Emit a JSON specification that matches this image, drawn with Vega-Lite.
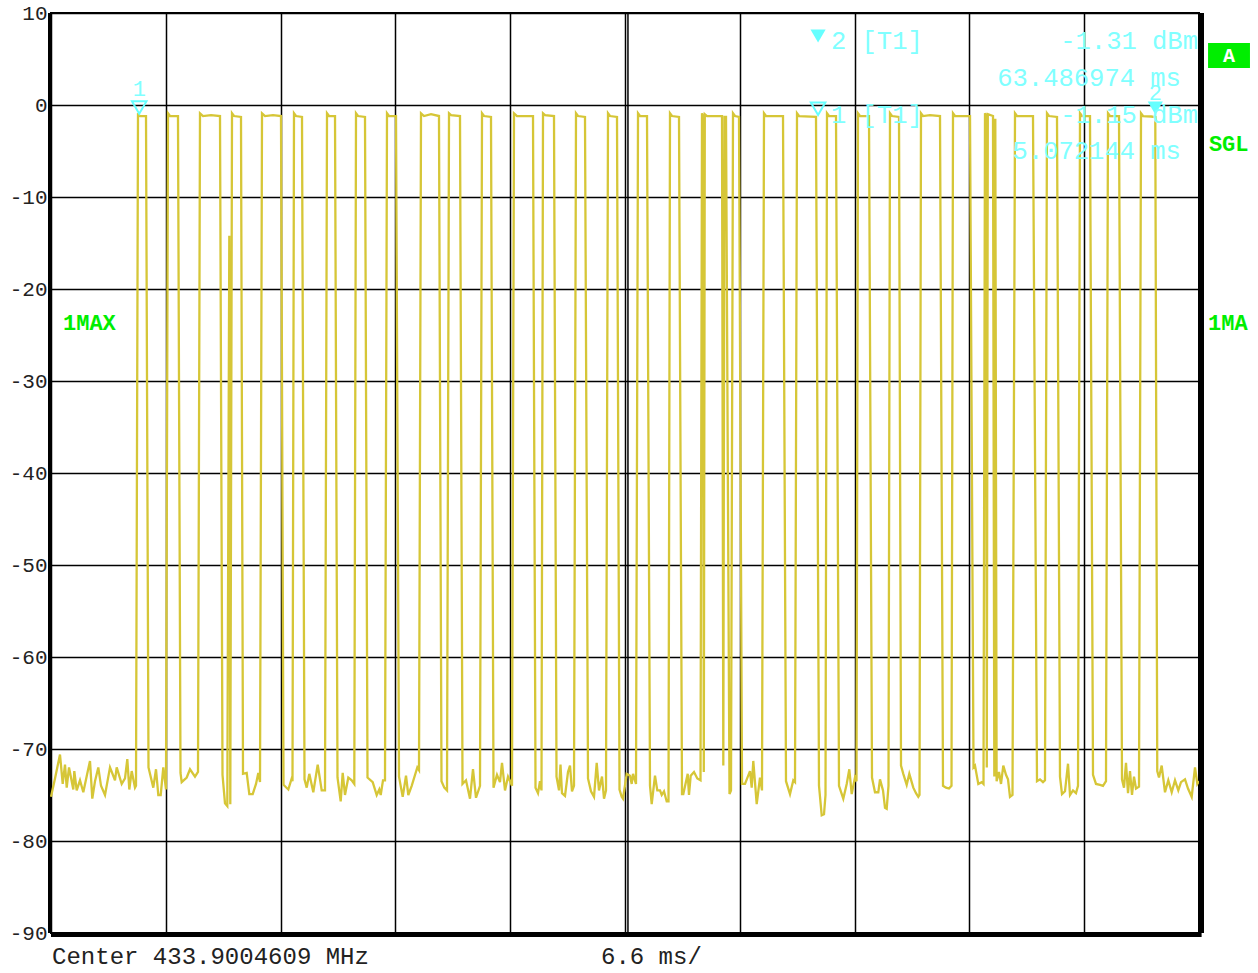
{
  "$schema": "https://vega.github.io/schema/vega-lite/v6.json",
  "width": 1148,
  "height": 920,
  "autosize": {"type": "none"},
  "padding": {"left": 51, "top": 13, "right": 59, "bottom": 40},
  "background": "#ffffff",
  "config": {
    "view": {"stroke": "#000000", "strokeWidth": 2},
    "axis": {"gridColor": "#000000", "gridWidth": 1.5, "gridOpacity": 1, "domain": false, "ticks": false, "title": null}
  },
  "datasets": {
    "trace": [
      {"t":0,"v":-75.2},{"t":0.23,"v":-73.2},{"t":0.517,"v":-70.6},{"t":0.673,"v":-73.8},{"t":0.805,"v":-71.7},{"t":0.903,"v":-74.2},{"t":1.035,"v":-72},{"t":1.282,"v":-74.4},{"t":1.34,"v":-72.4},{"t":1.478,"v":-74.5},{"t":1.667,"v":-73.4},{"t":1.857,"v":-74.7},{"t":2.07,"v":-72.8},{"t":2.242,"v":-71.3},{"t":2.374,"v":-75.4},{"t":2.53,"v":-73.5},{"t":2.719,"v":-72},{"t":2.875,"v":-74},{"t":3.105,"v":-75},{"t":3.392,"v":-72},{"t":3.679,"v":-73.4},{"t":3.777,"v":-72},{"t":4.065,"v":-73.8},{"t":4.254,"v":-73.2},{"t":4.387,"v":-71.1},{"t":4.502,"v":-74.4},{"t":4.64,"v":-72.4},{"t":4.829,"v":-74.2},{"t":4.887,"v":-74},
      {"t":5.002,"v":-0.9},{"t":5.072144,"v":-1.15},{"t":5.117,"v":-1.2},{"t":5.462,"v":-1.2},{"t":5.605,"v":-72},
      {"t":5.881,"v":-74.2},{"t":6.037,"v":-72.2},{"t":6.169,"v":-75},{"t":6.307,"v":-75},{"t":6.456,"v":-72},{"t":6.611,"v":-74.4},
      {"t":6.726,"v":-0.9},{"t":6.841,"v":-1.2},{"t":7.301,"v":-1.2},{"t":7.445,"v":-72.6},
      {"t":7.514,"v":-73.6},{"t":7.802,"v":-73.1},{"t":7.991,"v":-72.2},{"t":8.279,"v":-73},{"t":8.451,"v":-72.5},
      {"t":8.566,"v":-0.9},{"t":8.739,"v":-1.2},{"t":9.199,"v":-1.1},{"t":9.716,"v":-1.2},{"t":9.86,"v":-72.8},
      {"t":10.003,"v":-75.9},{"t":10.136,"v":-76.2},{"t":10.251,"v":-14.2},{"t":10.308,"v":-76},
      {"t":10.406,"v":-0.9},{"t":10.521,"v":-1.2},{"t":10.923,"v":-1.3},{"t":11.038,"v":-72.7},
      {"t":11.251,"v":-72.6},{"t":11.401,"v":-74.9},{"t":11.596,"v":-74.9},{"t":11.786,"v":-73.8},{"t":11.918,"v":-72.6},{"t":12.016,"v":-73.6},
      {"t":12.131,"v":-0.9},{"t":12.303,"v":-1.2},{"t":12.763,"v":-1.1},{"t":13.223,"v":-1.2},{"t":13.367,"v":-73.9},
      {"t":13.643,"v":-74.4},{"t":13.838,"v":-73.2},{"t":13.884,"v":-73.5},
      {"t":13.97,"v":-0.9},{"t":14.085,"v":-1.2},{"t":14.43,"v":-1.3},{"t":14.574,"v":-73.3},
      {"t":14.701,"v":-74.2},{"t":14.85,"v":-72.7},{"t":15.08,"v":-74.7},{"t":15.333,"v":-71.7},{"t":15.563,"v":-74.5},{"t":15.753,"v":-74.5},
      {"t":15.868,"v":-0.9},{"t":15.983,"v":-1.2},{"t":16.328,"v":-1.2},{"t":16.471,"v":-73.1},
      {"t":16.655,"v":-75.7},{"t":16.77,"v":-72.6},{"t":16.902,"v":-75},{"t":17.092,"v":-73.1},{"t":17.288,"v":-73.4},{"t":17.437,"v":-73.8},
      {"t":17.535,"v":-0.9},{"t":17.65,"v":-1.2},{"t":18.052,"v":-1.3},{"t":18.196,"v":-73.1},
      {"t":18.495,"v":-73.6},{"t":18.725,"v":-75},{"t":18.874,"v":-74.4},{"t":18.955,"v":-75},{"t":19.087,"v":-73.4},{"t":19.202,"v":-73.4},
      {"t":19.317,"v":-0.9},{"t":19.432,"v":-1.2},{"t":19.835,"v":-1.2},{"t":20.007,"v":-73},
      {"t":20.22,"v":-75.2},{"t":20.41,"v":-72.9},{"t":20.542,"v":-75},{"t":20.737,"v":-74},{"t":21.059,"v":-72},{"t":21.157,"v":-72.3},
      {"t":21.272,"v":-0.9},{"t":21.444,"v":-1.2},{"t":21.847,"v":-1},{"t":22.306,"v":-1.2},{"t":22.45,"v":-73.5},
      {"t":22.611,"v":-74.2},{"t":22.767,"v":-74.5},
      {"t":22.882,"v":-0.9},{"t":22.997,"v":-1.1},{"t":23.514,"v":-1.2},{"t":23.658,"v":-73.8},
      {"t":23.859,"v":-73.4},{"t":24.089,"v":-75.4},{"t":24.261,"v":-72.2},{"t":24.434,"v":-75.3},{"t":24.664,"v":-74},
      {"t":24.779,"v":-0.9},{"t":24.894,"v":-1.2},{"t":25.296,"v":-1.3},{"t":25.44,"v":-74.2},
      {"t":25.641,"v":-72.8},{"t":25.813,"v":-73.6},{"t":25.929,"v":-71.5},{"t":26.101,"v":-74.5},{"t":26.274,"v":-73},{"t":26.504,"v":-74},
      {"t":26.618,"v":-0.9},{"t":26.791,"v":-1.2},{"t":27.711,"v":-1.2},{"t":27.855,"v":-74.2},
      {"t":27.998,"v":-74.8},{"t":28.113,"v":-73.5},{"t":28.199,"v":-74.5},
      {"t":28.286,"v":-0.9},{"t":28.401,"v":-1.1},{"t":28.918,"v":-1.2},{"t":29.062,"v":-73},
      {"t":29.206,"v":-74.5},{"t":29.292,"v":-71.7},{"t":29.378,"v":-74.8},{"t":29.551,"v":-75.1},{"t":29.723,"v":-72.5},{"t":29.838,"v":-71.8},{"t":29.953,"v":-74.6},{"t":30.068,"v":-74},
      {"t":30.183,"v":-0.9},{"t":30.298,"v":-1.2},{"t":30.7,"v":-1.3},{"t":30.873,"v":-73.2},
      {"t":31.045,"v":-74.6},{"t":31.218,"v":-75.2},{"t":31.373,"v":-71.5},{"t":31.505,"v":-74.5},{"t":31.678,"v":-73},{"t":31.793,"v":-75.4},{"t":31.908,"v":-74.5},
      {"t":32.023,"v":-0.9},{"t":32.138,"v":-1.2},{"t":32.54,"v":-1.3},{"t":32.684,"v":-74.4},
      {"t":32.81,"v":-75.2},{"t":32.885,"v":-75.4},{"t":33.098,"v":-72.7},{"t":33.288,"v":-72.9},{"t":33.385,"v":-73.8},{"t":33.46,"v":-72.7},{"t":33.633,"v":-73.8},
      {"t":33.748,"v":-0.9},{"t":33.863,"v":-1.2},{"t":34.265,"v":-1.2},{"t":34.437,"v":-74},
      {"t":34.535,"v":-76},{"t":34.725,"v":-72.9},{"t":34.857,"v":-74.5},{"t":35.012,"v":-74.5},{"t":35.11,"v":-75},{"t":35.242,"v":-74.6},{"t":35.397,"v":-75.7},{"t":35.501,"v":-75.7},
      {"t":35.587,"v":-0.9},{"t":35.702,"v":-1.2},{"t":36.105,"v":-1.3},{"t":36.277,"v":-74.9},
      {"t":36.352,"v":-74.9},{"t":36.605,"v":-72.7},{"t":36.679,"v":-75},{"t":36.777,"v":-72.9},{"t":36.967,"v":-72.5},{"t":37.157,"v":-73.2},{"t":37.341,"v":-73.4},
      {"t":37.427,"v":-0.9},{"t":37.484,"v":-1.2},{"t":37.53,"v":-72.5},{"t":37.588,"v":-1},{"t":37.714,"v":-1.2},{"t":38.577,"v":-1.2},{"t":38.652,"v":-71.8},{"t":38.72,"v":-1.3},{"t":38.807,"v":-1.3},{"t":39.008,"v":-74.9},
      {"t":39.094,"v":-74.5},
      {"t":39.209,"v":-0.9},{"t":39.324,"v":-1.2},{"t":39.554,"v":-1.3},{"t":39.727,"v":-73.8},
      {"t":39.899,"v":-73.8},{"t":40.186,"v":-72.4},{"t":40.284,"v":-74.2},{"t":40.376,"v":-71.3},{"t":40.572,"v":-76},{"t":40.761,"v":-73.1},{"t":40.876,"v":-74.5},
      {"t":40.991,"v":-0.9},{"t":41.106,"v":-1.2},{"t":42.084,"v":-1.2},{"t":42.256,"v":-73.5},
      {"t":42.486,"v":-74.9},{"t":42.676,"v":-73.4},{"t":42.774,"v":-73.6},
      {"t":42.889,"v":-0.9},{"t":43.004,"v":-1.2},{"t":43.981,"v":-1.3},{"t":44.153,"v":-74},
      {"t":44.309,"v":-77.2},{"t":44.441,"v":-77.1},{"t":44.527,"v":-75},
      {"t":44.613,"v":-0.9},{"t":44.728,"v":-1.2},{"t":45.131,"v":-1.2},{"t":45.303,"v":-74},
      {"t":45.55,"v":-75.4},{"t":45.746,"v":-73.8},{"t":45.896,"v":-72.2},{"t":46.033,"v":-74.9},{"t":46.223,"v":-73.1},{"t":46.309,"v":-73.5},
      {"t":46.395,"v":-0.9},{"t":46.51,"v":-1.2},{"t":47.028,"v":-1.2},{"t":47.2,"v":-73.1},
      {"t":47.373,"v":-74.7},{"t":47.563,"v":-74.7},{"t":47.66,"v":-73.3},{"t":47.833,"v":-74.5},{"t":47.948,"v":-76.4},{"t":48.045,"v":-76.5},{"t":48.149,"v":-74},
      {"t":48.235,"v":-0.9},{"t":48.35,"v":-1.2},{"t":48.753,"v":-1.3},{"t":48.868,"v":-71.8},
      {"t":49,"v":-72.7},{"t":49.195,"v":-73.9},{"t":49.345,"v":-72.7},{"t":49.575,"v":-74.2},{"t":49.73,"v":-74.8},{"t":49.863,"v":-75.2},{"t":49.932,"v":-75},
      {"t":50.017,"v":-0.9},{"t":50.132,"v":-1.2},{"t":50.535,"v":-1.1},{"t":51.11,"v":-1.2},{"t":51.282,"v":-74},
      {"t":51.455,"v":-74.2},{"t":51.627,"v":-74.3},{"t":51.771,"v":-74},
      {"t":51.857,"v":-0.9},{"t":51.972,"v":-1.2},{"t":52.835,"v":-1.2},{"t":53.036,"v":-72},
      {"t":53.122,"v":-71.8},{"t":53.312,"v":-73.8},{"t":53.507,"v":-73.6},{"t":53.611,"v":-73.8},
      {"t":53.697,"v":-0.9},{"t":53.754,"v":-1.1},{"t":53.8,"v":-72},{"t":53.858,"v":-1},{"t":54.157,"v":-1.2},{"t":54.232,"v":-73},{"t":54.289,"v":-1.5},{"t":54.364,"v":-73.5},
      {"t":54.502,"v":-72.5},{"t":54.617,"v":-73.8},{"t":54.749,"v":-71.8},{"t":54.904,"v":-72.8},{"t":55.019,"v":-73.3},{"t":55.134,"v":-75.2},{"t":55.278,"v":-75},
      {"t":55.422,"v":-0.9},{"t":55.537,"v":-1.2},{"t":56.456,"v":-1.2},{"t":56.686,"v":-73.5},
      {"t":56.858,"v":-73.3},{"t":57.031,"v":-73.6},{"t":57.146,"v":-73.4},
      {"t":57.261,"v":-0.9},{"t":57.376,"v":-1.2},{"t":57.836,"v":-1.3},{"t":58.008,"v":-73},
      {"t":58.123,"v":-74.9},{"t":58.296,"v":-74.6},{"t":58.469,"v":-71.6},{"t":58.584,"v":-75},{"t":58.756,"v":-74.5},{"t":58.929,"v":-74.8},{"t":59.044,"v":-74},
      {"t":59.159,"v":-0.9},{"t":59.274,"v":-1.2},{"t":59.733,"v":-1.2},{"t":59.906,"v":-72.8},
      {"t":60.078,"v":-73.8},{"t":60.308,"v":-73.9},{"t":60.481,"v":-74},{"t":60.653,"v":-73.5},
      {"t":60.768,"v":-0.9},{"t":60.883,"v":-1.2},{"t":61.401,"v":-1.2},{"t":61.573,"v":-73.3},
      {"t":61.688,"v":-74.2},{"t":61.803,"v":-71.5},{"t":61.918,"v":-74.8},{"t":62.033,"v":-72.4},{"t":62.148,"v":-75},{"t":62.263,"v":-73},{"t":62.378,"v":-74.3},{"t":62.551,"v":-74.1},
      {"t":62.666,"v":-0.9},{"t":62.781,"v":-1.2},{"t":63.24,"v":-1.25},{"t":63.486974,"v":-1.31},{"t":63.6,"v":-72.4},
      {"t":63.7,"v":-73.1},{"t":63.855,"v":-71.8},{"t":64.045,"v":-74.7},{"t":64.235,"v":-73.4},{"t":64.431,"v":-74.7},{"t":64.62,"v":-73.4},{"t":64.81,"v":-74.5},{"t":64.965,"v":-73.6},{"t":65.195,"v":-73.3},{"t":65.368,"v":-74.3},{"t":65.58,"v":-75.2},{"t":65.77,"v":-72},{"t":65.903,"v":-73.8},{"t":66,"v":-73.5}
    ],
    "marker1": [{"t": 5.072144, "v": -1.15, "name": "1"}],
    "marker2": [{"t": 63.486974, "v": -1.31, "name": "2"}],
    "cyanRight": [
      {"t": 65.94, "v": 6.96, "label": "-1.31 dBm"},
      {"t": 64.96, "v": 2.93, "label": "63.486974 ms"},
      {"t": 65.94, "v": -1.09, "label": "-1.15 dBm"},
      {"t": 64.96, "v": -5.0, "label": "5.072144 ms"}
    ],
    "cyanLeft": [
      {"t": 44.84, "v": 6.96, "label": "2 [T1]"},
      {"t": 44.84, "v": -1.09, "label": "1 [T1]"}
    ],
    "keyFilled": [{"t": 44.1, "v": 7.5}],
    "keyHollow": [{"t": 44.1, "v": -0.4}],
    "green": [
      {"t": 0.69, "v": -23.7, "label": "1MAX"},
      {"t": 66.52, "v": -23.7, "label": "1MA"},
      {"t": 66.57, "v": -4.24, "label": "SGL"}
    ],
    "badge": [{"t1": 66.52, "t2": 68.93, "v1": 4.02, "v2": 6.74, "tc": 67.72, "vc": 5.38, "label": "A"}],
    "footer": [
      {"t": 0.06, "v": -92.6, "label": "Center 433.9004609 MHz"},
      {"t": 31.62, "v": -92.6, "label": "6.6 ms/"}
    ],
    "centerLine": [{"t": 33.17}],
    "rightEdge": [{"t": 66}],
    "leftEdge": [{"t": 0}],
    "bottomEdge": [{"v": -90}]
  },
  "layer": [
    {
      "data": {"name": "centerLine"},
      "mark": {"type": "rule", "color": "#000000", "strokeWidth": 1.5},
      "encoding": {
        "x": {"field": "t", "type": "quantitative", "scale": {"domain": [0, 66], "nice": false, "zero": false},
          "axis": {"values": [0, 6.6, 13.2, 19.8, 26.4, 33, 39.6, 46.2, 52.8, 59.4, 66], "labels": false, "grid": true, "orient": "bottom"}},
        "y": {"datum": -90, "type": "quantitative", "scale": {"domain": [-90, 10], "nice": false, "zero": false},
          "axis": {"values": [10, 0, -10, -20, -30, -40, -50, -60, -70, -80, -90], "grid": true, "labelExpr": "'' + datum.value",
            "labelFont": "Courier New, Liberation Mono, monospace", "labelFontSize": 21, "labelColor": "#222222", "labelPadding": 4, "labelFlush": false}},
        "y2": {"datum": 10}
      }
    },
    {
      "data": {"name": "trace"},
      "mark": {"type": "line", "color": "#d6c637", "strokeWidth": 2.3, "interpolate": "linear"},
      "encoding": {
        "x": {"field": "t", "type": "quantitative"},
        "y": {"field": "v", "type": "quantitative"}
      }
    },
    {
      "data": {"name": "rightEdge"},
      "mark": {"type": "rule", "color": "#000000", "strokeWidth": 5, "xOffset": 2.5},
      "encoding": {"x": {"field": "t", "type": "quantitative"}}
    },
    {
      "data": {"name": "leftEdge"},
      "mark": {"type": "rule", "color": "#000000", "strokeWidth": 2, "xOffset": -2},
      "encoding": {"x": {"field": "t", "type": "quantitative"}}
    },
    {
      "data": {"name": "bottomEdge"},
      "mark": {"type": "rule", "color": "#000000", "strokeWidth": 5, "yOffset": 1.5},
      "encoding": {"y": {"field": "v", "type": "quantitative"}, "x": {"datum": 0, "type": "quantitative"}, "x2": {"datum": 66.15}}
    },
    {
      "data": {"name": "marker1"},
      "mark": {"type": "point", "shape": "triangle-down", "filled": false, "stroke": "#66ffff", "strokeWidth": 2, "size": 210, "yOffset": -8, "opacity": 1},
      "encoding": {"x": {"field": "t", "type": "quantitative"}, "y": {"field": "v", "type": "quantitative"}}
    },
    {
      "data": {"name": "marker2"},
      "mark": {"type": "point", "shape": "triangle-down", "filled": true, "fill": "#66ffff", "strokeWidth": 0, "size": 230, "yOffset": -9, "opacity": 1},
      "encoding": {"x": {"field": "t", "type": "quantitative"}, "y": {"field": "v", "type": "quantitative"}}
    },
    {
      "data": {"name": "marker1"},
      "mark": {"type": "text", "color": "#80ffff", "font": "Courier New, Liberation Mono, monospace", "fontSize": 22, "baseline": "middle", "align": "center", "yOffset": -27},
      "encoding": {"x": {"field": "t", "type": "quantitative"}, "y": {"field": "v", "type": "quantitative"}, "text": {"field": "name"}}
    },
    {
      "data": {"name": "marker2"},
      "mark": {"type": "text", "color": "#80ffff", "font": "Courier New, Liberation Mono, monospace", "fontSize": 22, "baseline": "middle", "align": "center", "yOffset": -24},
      "encoding": {"x": {"field": "t", "type": "quantitative"}, "y": {"field": "v", "type": "quantitative"}, "text": {"field": "name"}}
    },
    {
      "data": {"name": "keyFilled"},
      "mark": {"type": "point", "shape": "triangle-down", "filled": true, "fill": "#66ffff", "strokeWidth": 0, "size": 230, "opacity": 1},
      "encoding": {"x": {"field": "t", "type": "quantitative"}, "y": {"field": "v", "type": "quantitative"}}
    },
    {
      "data": {"name": "keyHollow"},
      "mark": {"type": "point", "shape": "triangle-down", "filled": false, "stroke": "#66ffff", "strokeWidth": 2, "size": 210, "opacity": 1},
      "encoding": {"x": {"field": "t", "type": "quantitative"}, "y": {"field": "v", "type": "quantitative"}}
    },
    {
      "data": {"name": "cyanRight"},
      "mark": {"type": "text", "color": "#80ffff", "font": "Courier New, Liberation Mono, monospace", "fontSize": 25.5, "baseline": "middle", "align": "right"},
      "encoding": {"x": {"field": "t", "type": "quantitative"}, "y": {"field": "v", "type": "quantitative"}, "text": {"field": "label"}}
    },
    {
      "data": {"name": "cyanLeft"},
      "mark": {"type": "text", "color": "#80ffff", "font": "Courier New, Liberation Mono, monospace", "fontSize": 25.5, "baseline": "middle", "align": "left"},
      "encoding": {"x": {"field": "t", "type": "quantitative"}, "y": {"field": "v", "type": "quantitative"}, "text": {"field": "label"}}
    },
    {
      "data": {"name": "green"},
      "mark": {"type": "text", "color": "#00ee00", "font": "Courier New, Liberation Mono, monospace", "fontSize": 22, "fontWeight": "bold", "baseline": "middle", "align": "left"},
      "encoding": {"x": {"field": "t", "type": "quantitative"}, "y": {"field": "v", "type": "quantitative"}, "text": {"field": "label"}}
    },
    {
      "data": {"name": "badge"},
      "mark": {"type": "rect", "color": "#00ee00", "opacity": 1},
      "encoding": {"x": {"field": "t1", "type": "quantitative"}, "x2": {"field": "t2"}, "y": {"field": "v1", "type": "quantitative"}, "y2": {"field": "v2"}}
    },
    {
      "data": {"name": "badge"},
      "mark": {"type": "text", "color": "#ffffff", "font": "Courier New, Liberation Mono, monospace", "fontSize": 20, "fontWeight": "bold", "baseline": "middle", "align": "center"},
      "encoding": {"x": {"field": "tc", "type": "quantitative"}, "y": {"field": "vc", "type": "quantitative"}, "text": {"field": "label"}}
    },
    {
      "data": {"name": "footer"},
      "mark": {"type": "text", "color": "#222222", "font": "Courier New, Liberation Mono, monospace", "fontSize": 24, "baseline": "middle", "align": "left"},
      "encoding": {"x": {"field": "t", "type": "quantitative"}, "y": {"field": "v", "type": "quantitative"}, "text": {"field": "label"}}
    }
  ]
}
